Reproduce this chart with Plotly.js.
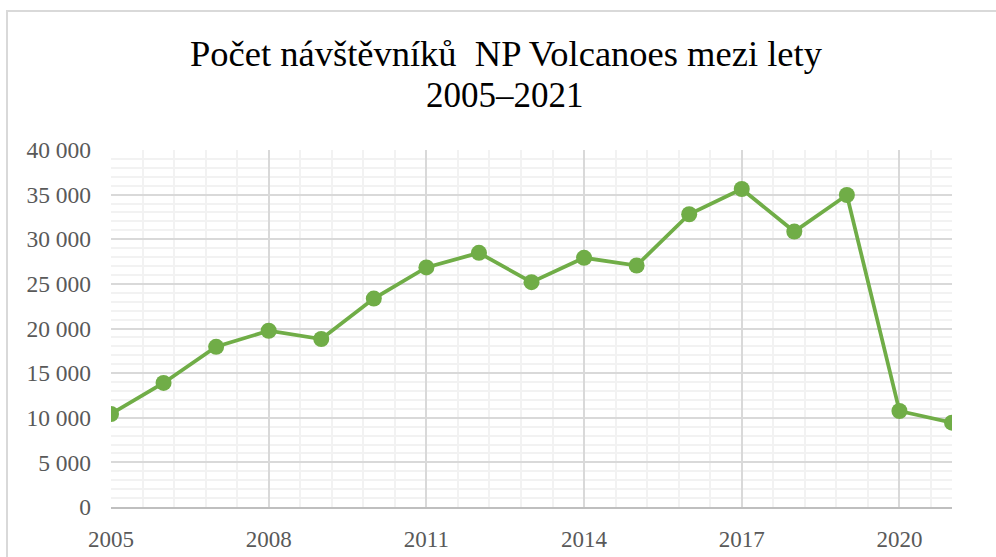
<!DOCTYPE html>
<html>
<head>
<meta charset="utf-8">
<script src="https://cdn.plot.ly/plotly-3.0.1.min.js"></script>
<style>
  html, body { margin: 0; padding: 0; background: #ffffff; overflow: hidden; }
  #chart { position: absolute; left: 0; top: 0; width: 996px; height: 557px; }
  #frame { position: absolute; left: 6px; top: 10px; width: 1100px; height: 700px;
           border-left: 2px solid #d9d9d9; border-top: 2px solid #d9d9d9; pointer-events: none; }
</style>
</head>
<body>
<div id="chart"></div>
<div id="frame"></div>
<script>
const years = [2005, 2006, 2007, 2008, 2009, 2010, 2011, 2012, 2013, 2014, 2015, 2016, 2017, 2018, 2019, 2020, 2021];
const visitors = [10420, 13900, 17950, 19750, 18820, 23350, 26840, 28480, 25190, 27920, 27060, 32800, 35630, 30860, 34960, 10760, 9450];
const xTickVals = [2005, 2008, 2011, 2014, 2017, 2020];
const titleLine1 = 'Počet návštěvníků  NP Volcanoes mezi lety';
const titleLine2 = '2005–2021';

const serif = 'Liberation Serif, Times New Roman, serif';

const trace = {
  x: years,
  y: visitors,
  type: 'scatter',
  mode: 'lines+markers',
  line: { color: '#70ad47', width: 3.75 },
  marker: { color: '#70ad47', size: 16 },
  hoverinfo: 'x+y'
};

const layout = {
  width: 996,
  height: 557,
  margin: { l: 111, r: 44, t: 150, b: 50 },
  paper_bgcolor: 'rgba(0,0,0,0)',
  plot_bgcolor: '#ffffff',
  separators: ', ',
  showlegend: false,
  title: {
    text: titleLine1,
    font: { family: serif, size: 36.5, color: '#000000' },
    x: 0.508,
    xanchor: 'center',
    xref: 'container',
    y: 1 - 53 / 557,
    yanchor: 'middle',
    yref: 'container'
  },
  annotations: [{
    text: titleLine2,
    font: { family: serif, size: 35, color: '#000000' },
    xref: 'paper',
    yref: 'paper',
    x: (505 - 111) / 841,
    y: (507 - 95) / 357,
    xanchor: 'center',
    yanchor: 'middle',
    showarrow: false
  }],
  xaxis: {
    range: [2005, 2021],
    tickmode: 'array',
    tickvals: xTickVals,
    ticktext: xTickVals.map(String),
    showgrid: true,
    gridcolor: '#d9d9d9',
    gridwidth: 1.5,
    zeroline: false,
    showline: true,
    linecolor: '#bfbfbf',
    linewidth: 2,
    ticks: '',
    ticklabelstandoff: 10,
    tickfont: { family: serif, size: 23, color: '#595959' },
    minor: { tick0: 2005, dtick: 0.6, showgrid: true, gridcolor: '#f2f2f2', gridwidth: 1.5, ticks: '' },
    fixedrange: true
  },
  yaxis: {
    range: [0, 40000],
    tick0: 0,
    dtick: 5000,
    tickformat: ',d',
    showgrid: true,
    gridcolor: '#d9d9d9',
    gridwidth: 1.5,
    zeroline: false,
    showline: false,
    ticks: '',
    ticklabelstandoff: 19,
    tickfont: { family: serif, size: 23.5, color: '#595959' },
    minor: { tick0: 0, dtick: 1000, showgrid: true, gridcolor: '#f2f2f2', gridwidth: 1.5, ticks: '' },
    fixedrange: true
  }
};

Plotly.newPlot('chart', [trace], layout, { displayModeBar: false });
</script>
</body>
</html>
